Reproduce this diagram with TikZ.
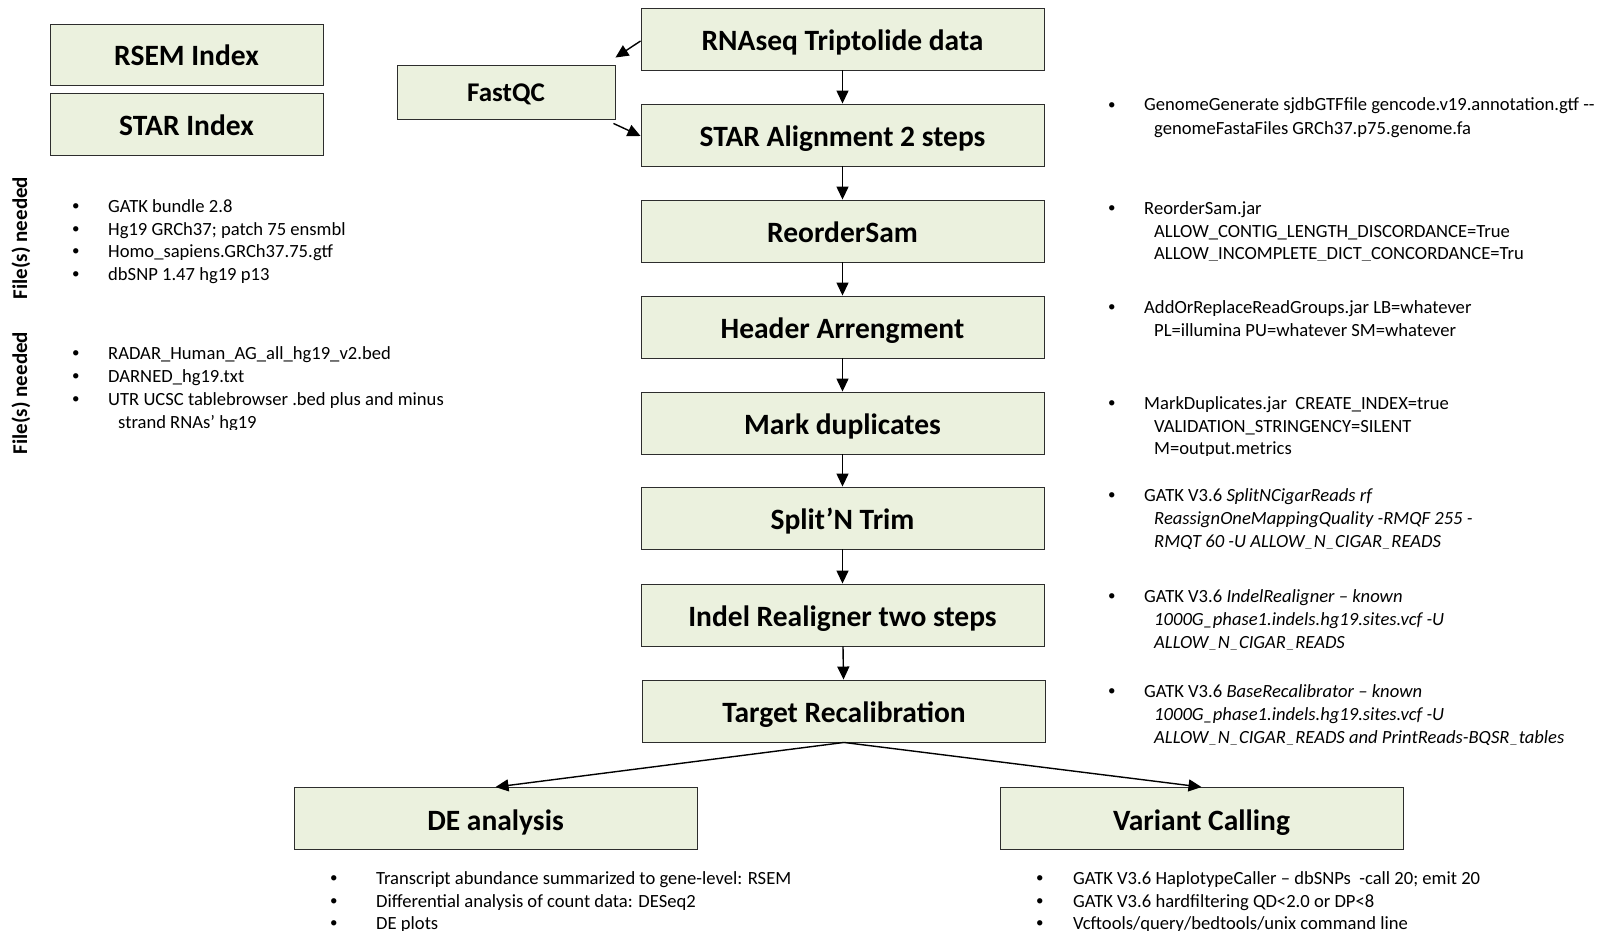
\documentclass[tikz,border=0pt]{standalone}
\usepackage{fontspec}
\setmainfont{Carlito}
\usetikzlibrary{arrows.meta}
\definecolor{boxfill}{RGB}{235,241,222}
\definecolor{boxline}{RGB}{45,45,45}

\begin{document}
\begin{tikzpicture}[x=1pt,y=-1pt,
  stage/.style={draw=boxline, fill=boxfill, line width=0.9pt, inner sep=0pt,
    minimum width=403pt, minimum height=62pt,
    text height=23pt, text depth=0pt,
    font=\fontsize{29.5}{34}\selectfont\bfseries},
  flow/.style={line width=1.4pt, -{Triangle[length=13pt,width=12pt]}},
  note/.style={inner sep=0pt, anchor=base west, font=\fontsize{18.6}{22}\selectfont},
  dot/.style={inner sep=0pt, anchor=base west, yshift=1.2pt, font=\fontsize{15}{18}\selectfont},
  side/.style={rotate=90, inner sep=0pt, font=\fontsize{21}{25}\selectfont\bfseries}]

\useasboundingbox[fill=white] (0,0) rectangle (1608,931);

% ---- index boxes and QC ----
\node[stage, minimum width=273pt, minimum height=61pt] (rsem) at (186.5,54.5) {RSEM Index};
\node[stage, minimum width=273pt, minimum height=62pt] (starix) at (186.5,124) {STAR Index};
\node[stage, minimum width=218pt, minimum height=54pt, text height=19pt,
  font=\fontsize{27}{32}\selectfont\bfseries] (fastqc) at (506,92) {FastQC};

% ---- main pipeline ----
\node[stage] (rna)     at (842.5,39)  {RNAseq Triptolide data};
\node[stage] (star)    at (842.5,135) {STAR Alignment 2 steps};
\node[stage] (reorder) at (842.5,231) {ReorderSam};
\node[stage] (header)  at (842.5,327) {Header Arrengment};
\node[stage] (mark)    at (842.5,423) {Mark duplicates};
\node[stage] (split)   at (842.5,518) {Split’N Trim};
\node[stage] (indel)   at (842.5,615) {Indel Realigner two steps};
\node[stage] (target)  at (844,711)   {Target Recalibration};
\node[stage] (de)      at (495.5,818.5) {DE analysis};
\node[stage] (var)     at (1201.5,818.5) {Variant Calling};

\draw[flow] ([yshift=-2pt]rna.west) -- ([yshift=7pt]fastqc.north east);
\draw[flow] ([xshift=-2pt,yshift=-4pt]fastqc.south east) -- ([yshift=-1pt]star.west);
\draw[flow] (rna) -- (star);
\draw[flow] (star) -- (reorder);
\draw[flow] (reorder) -- (header);
\draw[flow] (header) -- (mark);
\draw[flow] (mark) -- (split);
\draw[flow] (split) -- (indel);
\draw[flow] (indel) -- (target);
\draw[flow] (target.south) -- (de.north);
\draw[flow] (target.south) -- (var.north);

% ---- required files ----
\node[side] (need1) at (21,238) {File(s) needed};
\node[side] (need2) at (21,393) {File(s) needed};

\node[dot]  (l1b1) at (72,212) {•};
\node[note] (l1t1) at (108,212) {GATK bundle 2.8};
\node[dot]  (l1b2) at (72,235) {•};
\node[note] (l1t2) at (108,235) {Hg19 GRCh37; patch 75 ensmbl};
\node[dot]  (l1b3) at (72,257) {•};
\node[note] (l1t3) at (108,257) {Homo\_sapiens.GRCh37.75.gtf};
\node[dot]  (l1b4) at (72,280) {•};
\node[note] (l1t4) at (108,280) {dbSNP 1.47 hg19 p13};

\begin{scope}
\clip (60,335) rectangle (470,429);
\node[dot]  (l2b1) at (72,359) {•};
\node[note] (l2t1) at (108,359) {RADAR\_Human\_AG\_all\_hg19\_v2.bed};
\node[dot]  (l2b2) at (72,382) {•};
\node[note] (l2t2) at (108,382) {DARNED\_hg19.txt};
\node[dot]  (l2b3) at (72,405) {•};
\node[note] (l2t3) at (108,405) {UTR UCSC tablebrowser .bed plus and minus};
\node[note] (l2t4) at (118,428) {strand RNAs’ hg19};
\end{scope}

% ---- tool parameters ----
\node[dot]  (rAb) at (1108,111) {•};
\node[note] (rA1) at (1144,111) {GenomeGenerate sjdbGTFfile gencode.v19.annotation.gtf -{}-};
\node[note] (rA2) at (1154,135) {genomeFastaFiles GRCh37.p75.genome.fa};

\begin{scope}
\clip (1100,190) rectangle (1522,260);
\node[dot]  (rBb) at (1108,214) {•};
\node[note] (rB1) at (1144,214) {ReorderSam.jar};
\node[note] (rB2) at (1154,237) {ALLOW\_CONTIG\_LENGTH\_DISCORDANCE=True};
\node[note] (rB3) at (1154,259) {ALLOW\_INCOMPLETE\_DICT\_CONCORDANCE=True};
\end{scope}

\node[dot]  (rCb) at (1108,313) {•};
\node[note] (rC1) at (1144,313) {AddOrReplaceReadGroups.jar LB=whatever};
\node[note] (rC2) at (1154,336) {PL=illumina PU=whatever SM=whatever};

\begin{scope}
\clip (1100,385) rectangle (1600,455);
\node[dot]  (rDb) at (1108,409) {•};
\node[note] (rD1) at (1144,409) {MarkDuplicates.jar \ CREATE\_INDEX=true};
\node[note] (rD2) at (1154,432) {VALIDATION\_STRINGENCY=SILENT};
\node[note] (rD3) at (1154,454) {M=output.metrics};
\end{scope}

\begin{scope}
\clip (1100,477) rectangle (1600,548);
\node[dot]  (rEb) at (1108,501) {•};
\node[note] (rE1) at (1144,501) {GATK V3.6 \textit{SplitNCigarReads rf}};
\node[note] (rE2) at (1154,524) {\textit{ReassignOneMappingQuality -RMQF 255 -}};
\node[note] (rE3) at (1154,547) {\textit{RMQT 60 -U ALLOW\_N\_CIGAR\_READS}};
\end{scope}

\begin{scope}
\clip (1100,579) rectangle (1600,649);
\node[dot]  (rFb) at (1108,602) {•};
\node[note] (rF1) at (1144,602) {GATK V3.6 \textit{IndelRealigner – known}};
\node[note] (rF2) at (1154,625) {\textit{1000G\_phase1.indels.hg19.sites.vcf -U}};
\node[note] (rF3) at (1154,648) {\textit{ALLOW\_N\_CIGAR\_READS}};
\end{scope}

\begin{scope}
\clip (1100,675) rectangle (1600,744);
\node[dot]  (rGb) at (1108,697) {•};
\node[note] (rG1) at (1144,697) {GATK V3.6 \textit{BaseRecalibrator – known}};
\node[note] (rG2) at (1154,720) {\textit{1000G\_phase1.indels.hg19.sites.vcf -U}};
\node[note] (rG3) at (1154,743) {\textit{ALLOW\_N\_CIGAR\_READS and PrintReads-BQSR\_tables}};
\end{scope}

% ---- downstream analyses ----
\node[dot]  (dBb1) at (330,884) {•};
\node[note] (dB1) at (376,884) {Transcript abundance summarized to gene-level: RSEM};
\node[dot]  (dBb2) at (330,907) {•};
\node[note] (dB2) at (376,907) {Differential analysis of count data: DESeq2};
\node[dot]  (dBb3) at (330,929) {•};
\node[note] (dB3) at (376,929) {DE plots};

\node[dot]  (vBb1) at (1036,884) {•};
\node[note] (vB1) at (1073,884) {GATK V3.6 HaplotypeCaller – dbSNPs \ -call 20; emit 20};
\node[dot]  (vBb2) at (1036,907) {•};
\node[note] (vB2) at (1073,907) {GATK V3.6 hardfiltering QD<2.0 or DP<8};
\node[dot]  (vBb3) at (1036,929) {•};
\node[note] (vB3) at (1073,929) {Vcftools/query/bedtools/unix command line};

\end{tikzpicture}
\end{document}
